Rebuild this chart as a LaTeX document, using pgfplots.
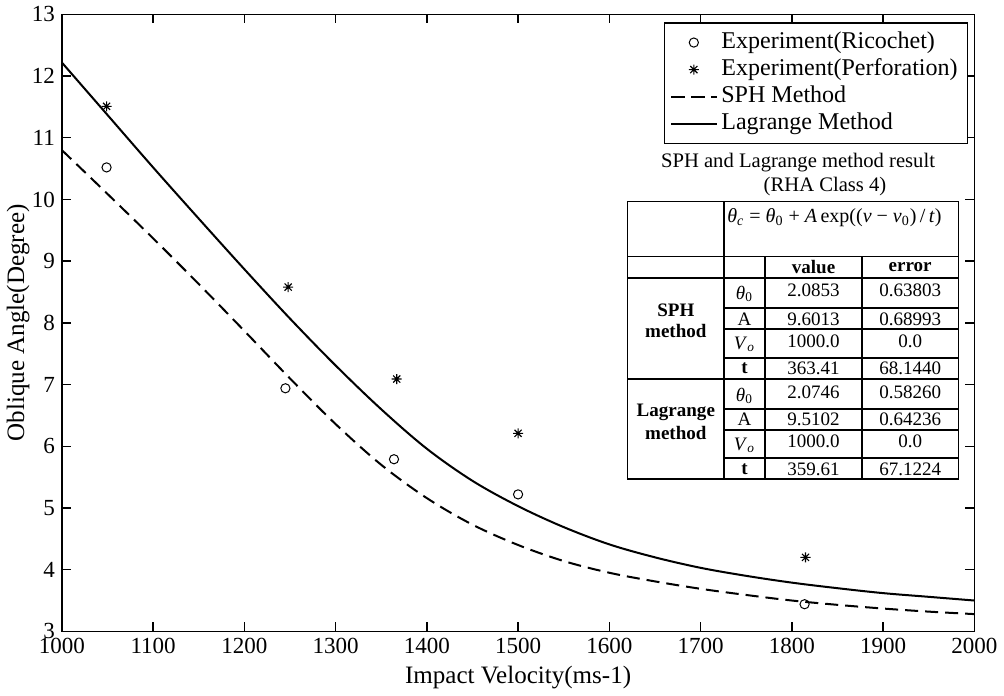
\documentclass[border=0pt]{standalone}
\usepackage{fontspec}
\setmainfont{Liberation Serif}
\usepackage{pgfplots}
\pgfplotsset{compat=1.18}

% MATLAB-style "*" marker: a plus and a cross on top of each other
\pgfdeclareplotmark{mstar}{%
  \pgfpathmoveto{\pgfqpoint{-\pgfplotmarksize}{0pt}}\pgfpathlineto{\pgfqpoint{\pgfplotmarksize}{0pt}}%
  \pgfpathmoveto{\pgfqpoint{0pt}{-\pgfplotmarksize}}\pgfpathlineto{\pgfqpoint{0pt}{\pgfplotmarksize}}%
  \pgfpathmoveto{\pgfqpoint{-0.707\pgfplotmarksize}{-0.707\pgfplotmarksize}}\pgfpathlineto{\pgfqpoint{0.707\pgfplotmarksize}{0.707\pgfplotmarksize}}%
  \pgfpathmoveto{\pgfqpoint{-0.707\pgfplotmarksize}{0.707\pgfplotmarksize}}\pgfpathlineto{\pgfqpoint{0.707\pgfplotmarksize}{-0.707\pgfplotmarksize}}%
  \pgfusepathqstroke}

\begin{document}
\begin{tikzpicture}
\begin{axis}[
    scale only axis,
    width=455.5pt, height=308pt,
    xmin=1000, xmax=2000,
    ymin=3, ymax=13,
    xtick={1000,1100,...,2000},
    ytick={3,4,...,13},
    tick align=inside,
    major tick length=4.5pt,
    axis line style={line width=0.7pt},
    every tick/.style={black, line width=0.7pt},
    tick label style={font=\fontsize{11.5}{13}\selectfont},
    /pgf/number format/assume math mode=true,
    /pgf/number format/1000 sep={},
    xlabel={Impact Velocity(ms-1)},
    ylabel={Oblique Angle(Degree)},
    label style={font=\fontsize{12.5}{14}\selectfont},
    xlabel style={at={(axis description cs:0.5,-0.075)}, anchor=center},
    ylabel style={at={(axis description cs:-0.048,0.5)}, anchor=center},
    legend style={at={(0.9934,0.987)}, anchor=north east,
        draw=black, line width=0.6pt,
        font=\fontsize{12}{14}\selectfont,
        inner xsep=3pt, inner ysep=3pt,
        nodes={inner ysep=0.5pt, text height=9pt, text depth=3.5pt}},
    legend cell align=left,
    legend image code/.code={%
        \draw[mark repeat=2, mark phase=2, #1]
            plot coordinates {(0pt,0pt) (11.25pt,0pt) (22.5pt,0pt)};},
]
\addplot[only marks, mark=o, mark size=2.3pt, line width=0.5pt, black]
    coordinates {(1049,10.52) (1245,6.94) (1364,5.79) (1500,5.22) (1814,3.44)};
\addplot[only marks, mark=mstar, mark size=2.5pt, line width=0.55pt, black]
    coordinates {(1049,11.51) (1248,8.58) (1367,7.09) (1500,6.21) (1815,4.20)};
\addplot[black, line width=1pt, dash pattern=on 6.5pt off 3.5pt, smooth, tension=0.55]
    coordinates {(1000,10.80) (1050,10.09) (1100,9.37) (1150,8.63) (1200,7.87)
                 (1250,7.10) (1300,6.36) (1350,5.70) (1400,5.16) (1450,4.73)
                 (1500,4.40) (1550,4.14) (1600,3.95) (1650,3.81) (1700,3.69)
                 (1750,3.59) (1800,3.50) (1850,3.43) (1900,3.37) (1950,3.32)
                 (2000,3.28)};
\addplot[black, line width=1pt, smooth, tension=0.55]
    coordinates {(1000,12.22) (1050,11.37) (1100,10.52) (1150,9.69) (1200,8.87)
                 (1250,8.07) (1300,7.31) (1350,6.60) (1400,5.96) (1450,5.44)
                 (1500,5.03) (1550,4.69) (1600,4.41) (1650,4.20) (1700,4.03)
                 (1750,3.90) (1800,3.79) (1850,3.70) (1900,3.62) (1950,3.56)
                 (2000,3.50)};
\legend{Experiment(Ricochet), Experiment(Perforation), SPH Method, Lagrange Method}
\coordinate (tl) at (rel axis cs:0,1);
\end{axis}

% fit-result table drawn over the plot area (coordinates in reference pixels)
\begin{scope}[shift={(tl)}, x=0.5pt, y=-0.5pt, shift={(-67,-15)},
              every node/.style={font=\fontsize{9.5}{11}\selectfont, inner sep=0pt}]
  \node[font=\fontsize{10.3}{12}\selectfont] at (802,163) {SPH and Lagrange method result};
  \node[font=\fontsize{10.3}{12}\selectfont] at (829,187) {(RHA Class 4)};
  \fill[white] (632,202) rectangle (962,479);
  \draw[line width=0.7pt] (632,202) rectangle (962,479);
  \draw[line width=0.7pt] (728,202) -- (728,479);
  \draw[line width=0.7pt] (769,257) -- (769,479) (866,257) -- (866,479);
  \draw[line width=0.7pt] (632,257) -- (962,257) (632,278) -- (962,278) (632,379) -- (962,379);
  \foreach \yy in {308,329,358,409,430,458}
    \draw[line width=0.7pt] (728,\yy) -- (962,\yy);
  \node[anchor=west, font=\fontsize{10}{12}\selectfont] at (731,218)
    {\textit{θ}\textsubscript{\textit{c}} = \textit{θ}\textsubscript{0} + \textit{A}\,exp((\textit{v} − \textit{v}\textsubscript{0})\,/\,\textit{t})};
  \node[font=\bfseries\fontsize{9.5}{11}\selectfont] at (817.5,267) {value};
  \node[font=\bfseries\fontsize{9.5}{11}\selectfont] at (914,267) {error};
  \node[font=\bfseries\fontsize{9.5}{11}\selectfont] at (680,310) {SPH};
  \node[font=\bfseries\fontsize{9.5}{11}\selectfont] at (680,331) {method};
  \node[font=\bfseries\fontsize{9.5}{11}\selectfont] at (680,412) {Lagrange};
  \node[font=\bfseries\fontsize{9.5}{11}\selectfont] at (680,433) {method};
  % SPH rows
  \node at (748.5,294) {\textit{θ}\textsubscript{0}};
  \node at (748.5,319) {A};
  \node at (748.5,344) {\textit{V}\textsubscript{\textit{o}}};
  \node[font=\bfseries\fontsize{9.5}{11}\selectfont] at (748.5,368) {t};
  \node at (817.5,290) {2.0853};   \node at (914,290) {0.63803};
  \node at (817.5,319) {9.6013};   \node at (914,319) {0.68993};
  \node at (817.5,341) {1000.0};   \node at (914,341) {0.0};
  \node at (817.5,368) {363.41};   \node at (914,368) {68.1440};
  % Lagrange rows
  \node at (748.5,396) {\textit{θ}\textsubscript{0}};
  \node at (748.5,419) {A};
  \node at (748.5,445) {\textit{V}\textsubscript{\textit{o}}};
  \node[font=\bfseries\fontsize{9.5}{11}\selectfont] at (748.5,469) {t};
  \node at (817.5,392) {2.0746};   \node at (914,392) {0.58260};
  \node at (817.5,419) {9.5102};   \node at (914,419) {0.64236};
  \node at (817.5,441) {1000.0};   \node at (914,441) {0.0};
  \node at (817.5,469) {359.61};   \node at (914,469) {67.1224};
\end{scope}
\end{tikzpicture}
\end{document}
